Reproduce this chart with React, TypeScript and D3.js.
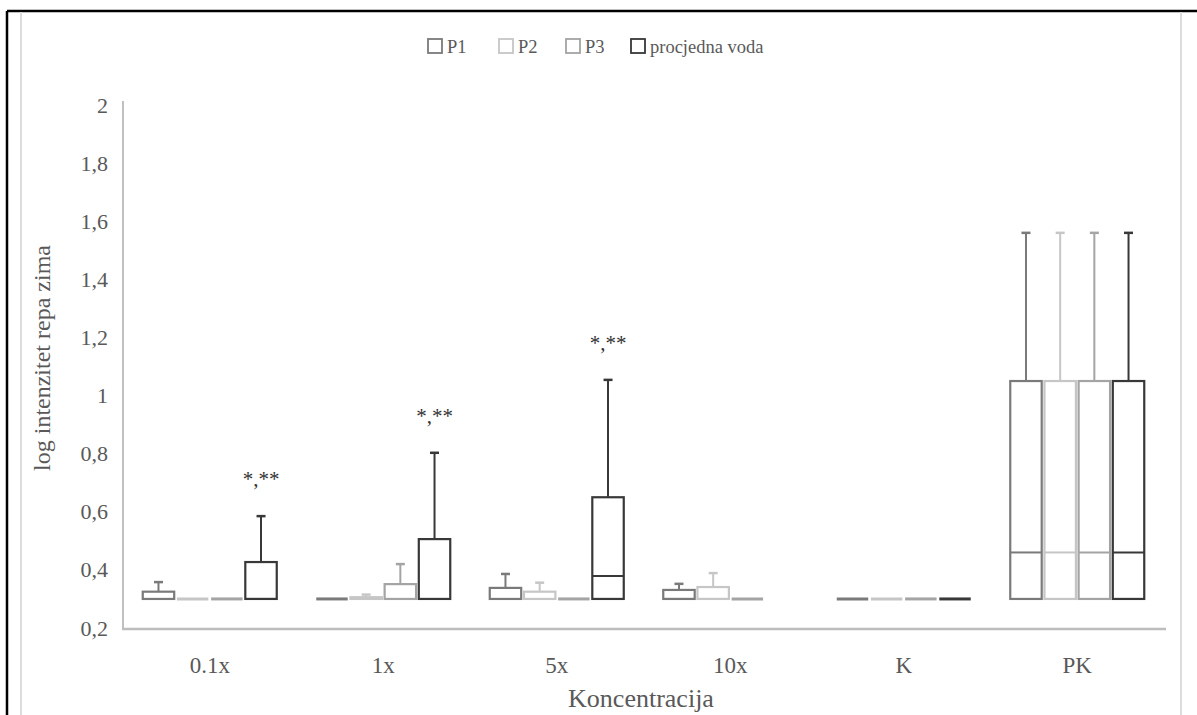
import React from "react";
import * as d3 from "d3";

type Box = [number, number, number, number, number] | null;

const categories = ["0.1x", "1x", "5x", "10x", "K", "PK"];
const seriesNames = ["P1", "P2", "P3", "procjedna voda"];
const seriesColors = ["#7a7a7a", "#c6c6c6", "#a4a4a4", "#383838"];

// [min, q1, median, q3, max] per category
const p1: Box[] = [
  [0.3, 0.3, 0.3, 0.325, 0.358],
  [0.3, 0.3, 0.3, 0.3, 0.3],
  [0.3, 0.3, 0.3, 0.338, 0.386],
  [0.3, 0.3, 0.3, 0.331, 0.352],
  [0.3, 0.3, 0.3, 0.3, 0.3],
  [0.3, 0.3, 0.46, 1.05, 1.56],
];
const p2: Box[] = [
  [0.3, 0.3, 0.3, 0.3, 0.3],
  [0.3, 0.3, 0.3, 0.306, 0.315],
  [0.3, 0.3, 0.3, 0.325, 0.356],
  [0.3, 0.3, 0.3, 0.341, 0.389],
  [0.3, 0.3, 0.3, 0.3, 0.3],
  [0.3, 0.3, 0.46, 1.05, 1.56],
];
const p3: Box[] = [
  [0.3, 0.3, 0.3, 0.3, 0.3],
  [0.3, 0.3, 0.3, 0.351, 0.42],
  [0.3, 0.3, 0.3, 0.3, 0.3],
  [0.3, 0.3, 0.3, 0.3, 0.3],
  [0.3, 0.3, 0.3, 0.3, 0.3],
  [0.3, 0.3, 0.46, 1.05, 1.56],
];
const pv: Box[] = [
  [0.3, 0.3, 0.3, 0.427, 0.585],
  [0.3, 0.3, 0.3, 0.506, 0.803],
  [0.3, 0.3, 0.379, 0.65, 1.054],
  null,
  [0.3, 0.3, 0.3, 0.3, 0.3],
  [0.3, 0.3, 0.46, 1.05, 1.56],
];
const seriesData = [p1, p2, p3, pv];

const yTicks = [0.2, 0.4, 0.6, 0.8, 1, 1.2, 1.4, 1.6, 1.8, 2];
const annotations = ["*,**", "*,**", "*,**", "", "", ""];

const FONT = "'Liberation Serif', 'Times New Roman', serif";
const TXT = "#595959";

export default function App() {
  const W = 1197;
  const H = 715;
  const x = d3.scaleBand<string>().domain(categories).range([123, 1164]);
  const sub = d3
    .scaleBand<string>()
    .domain(seriesNames)
    .range([-67, 67])
    .paddingInner(0.08);
  const y = d3.scaleLinear().domain([0.2, 2]).range([628, 105]);
  const fmt = (v: number) => String(+v.toFixed(1)).replace(".", ",");
  const bw = sub.bandwidth();
  const cap = 9;

  const legendX = [428, 499, 566, 631];

  return (
    <svg
      width={W}
      height={H}
      style={{ position: "absolute", left: 0, top: 0, background: "#fff", fontFamily: FONT }}
    >
      <rect x={0} y={0} width={W} height={H} fill="#fff" />
      {/* frame */}
      <line x1={7} y1={11} x2={W} y2={11} stroke="#000" strokeWidth={2.5} />
      <line x1={7} y1={11} x2={7} y2={H} stroke="#000" strokeWidth={2.5} />
      <line x1={21} y1={12} x2={21} y2={H} stroke="#dcdcdc" strokeWidth={2} />
      <line x1={1181} y1={12} x2={1181} y2={H} stroke="#dcdcdc" strokeWidth={2} />

      {/* legend */}
      {seriesNames.map((s, i) => (
        <g key={s}>
          <rect
            x={legendX[i]}
            y={39}
            width={14}
            height={14}
            fill="#fff"
            stroke={seriesColors[i]}
            strokeWidth={1.8}
          />
          <text x={legendX[i] + 19} y={52.5} fontSize={18.5} fill={TXT}>
            {s}
          </text>
        </g>
      ))}

      {/* axes */}
      <line x1={123} y1={101} x2={123} y2={629} stroke="#c0c0c0" strokeWidth={2} />
      <line x1={122} y1={629} x2={1166} y2={629} stroke="#bdbdbd" strokeWidth={2.5} />

      {yTicks.map((t) => (
        <text
          key={t}
          x={108}
          y={y(t) + 7.5}
          textAnchor="end"
          fontSize={22}
          fill={TXT}
        >
          {fmt(t)}
        </text>
      ))}
      <text
        transform={`translate(50,358) rotate(-90)`}
        textAnchor="middle"
        fontSize={24}
        fill={TXT}
      >
        log intenzitet repa zima
      </text>

      {categories.map((c) => (
        <text
          key={c}
          x={(x(c) as number) + x.bandwidth() / 2}
          y={673}
          textAnchor="middle"
          fontSize={23}
          fill={TXT}
        >
          {c}
        </text>
      ))}
      <text x={641} y={707} textAnchor="middle" fontSize={26} fill={TXT}>
        Koncentracija
      </text>

      {/* boxes */}
      {seriesData.map((data, si) =>
        data.map((b, ci) => {
          if (!b) return null;
          const cx =
            (x(categories[ci]) as number) +
            x.bandwidth() / 2 +
            (sub(seriesNames[si]) as number);
          const col = seriesColors[si];
          const [mn, q1, md, q3, mx] = b;
          const mid = cx + bw / 2;
          const flat = q3 - q1 < 1e-9;
          return (
            <g key={`${si}-${ci}`} stroke={col} fill="none">
              {mx > q3 && (
                <>
                  <line x1={mid} x2={mid} y1={y(q3)} y2={y(mx)} strokeWidth={2} />
                  <line
                    x1={mid - cap / 2}
                    x2={mid + cap / 2}
                    y1={y(mx)}
                    y2={y(mx)}
                    strokeWidth={2.5}
                  />
                </>
              )}
              {mn < q1 && (
                <line x1={mid} x2={mid} y1={y(q1)} y2={y(mn)} strokeWidth={2} />
              )}
              {flat ? (
                <line x1={cx} x2={cx + bw} y1={y(q1)} y2={y(q1)} strokeWidth={3} />
              ) : (
                <>
                  <rect
                    x={cx}
                    y={y(q3)}
                    width={bw}
                    height={y(q1) - y(q3)}
                    fill="#fff"
                    strokeWidth={2.2}
                  />
                  <line x1={cx} x2={cx + bw} y1={y(md)} y2={y(md)} strokeWidth={2} />
                </>
              )}
            </g>
          );
        })
      )}

      {/* annotations */}
      {annotations.map((a, ci) => {
        const b = pv[ci];
        if (!a || !b) return null;
        const cx =
          (x(categories[ci]) as number) +
          x.bandwidth() / 2 +
          (sub(seriesNames[3]) as number) +
          bw / 2;
        return (
          <text
            key={ci}
            x={cx}
            y={y(b[4]) - 30}
            textAnchor="middle"
            fontSize={21}
            fill="#333"
          >
            {a}
          </text>
        );
      })}
    </svg>
  );
}
